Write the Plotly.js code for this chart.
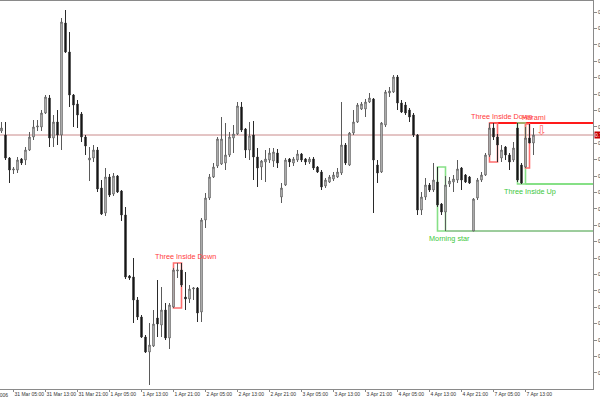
<!DOCTYPE html>
<html>
<head>
<meta charset="utf-8">
<script src="https://cdn.plot.ly/plotly-3.0.1.min.js"></script>
<style>html,body{margin:0;padding:0;background:#fff;}#chart{width:600px;height:400px;}</style>
</head>
<body>
<div id="chart"></div>
<script>
// Hourly bars (index 0 = first visible bar). Prices (axis labels are cut off).
const open = [
0.7257,0.7253,0.7230,0.7218,0.7218,0.7229,0.7228,0.7238,0.7251,0.7261,
0.7261,0.7275,0.7290,0.7250,0.7266,0.7253,0.7365,0.7336,0.7293,0.7284,
0.7274,0.7251,0.7228,0.7230,0.7238,0.7200,0.7175,0.7211,0.7194,0.7212,
0.7197,0.7173,0.7112,0.7111,0.7088,0.7071,0.7051,0.7036,0.7042,0.7070,
0.7063,0.7078,0.7050,0.7081,0.7117,0.7118,0.7091,0.7089,0.7099,0.7100,
0.7076,0.7168,0.7190,0.7211,0.7222,0.7224,0.7225,0.7233,0.7250,0.7254,
0.7281,0.7259,0.7238,0.7253,0.7231,0.7221,0.7226,0.7228,0.7227,0.7235,
0.7191,0.7203,0.7229,0.7225,0.7228,0.7234,0.7229,0.7226,0.7229,0.7221,
0.7216,0.7202,0.7206,0.7209,0.7211,0.7215,0.7243,0.7223,0.7255,0.7266,
0.7279,0.7279,0.7286,0.7289,0.7223,0.7216,0.7263,0.7295,0.7296,0.7311,
0.7285,0.7283,0.7278,0.7273,0.7253,0.7178,0.7191,0.7203,0.7198,0.7206,
0.7184,0.7176,0.7204,0.7206,0.7208,0.7220,0.7213,0.7211,0.7157,0.7190,
0.7208,0.7213,0.7233,0.7260,0.7251,0.7230,0.7241,0.7233,0.7228,0.7260,
0.7223,0.7221,0.7250,0.7245];
const high = [
0.7266,0.7266,0.7231,0.7221,0.7231,0.7230,0.7241,0.7256,0.7268,0.7268,
0.7278,0.7293,0.7293,0.7273,0.7278,0.7370,0.7378,0.7356,0.7294,0.7288,
0.7276,0.7253,0.7241,0.7243,0.7241,0.7208,0.7220,0.7214,0.7215,0.7213,
0.7198,0.7181,0.7113,0.7130,0.7091,0.7073,0.7053,0.7065,0.7078,0.7108,
0.7101,0.7085,0.7085,0.7120,0.7125,0.7125,0.7116,0.7103,0.7101,0.7101,
0.7170,0.7195,0.7214,0.7225,0.7251,0.7271,0.7265,0.7256,0.7263,0.7286,
0.7286,0.7260,0.7266,0.7267,0.7240,0.7228,0.7238,0.7240,0.7240,0.7239,
0.7205,0.7230,0.7230,0.7231,0.7238,0.7235,0.7230,0.7231,0.7231,0.7222,
0.7218,0.7210,0.7213,0.7216,0.7220,0.7286,0.7245,0.7256,0.7278,0.7285,
0.7286,0.7289,0.7295,0.7290,0.7228,0.7266,0.7298,0.7301,0.7313,0.7313,
0.7288,0.7286,0.7280,0.7275,0.7254,0.7196,0.7210,0.7205,0.7225,0.7221,
0.7185,0.7212,0.7211,0.7213,0.7228,0.7221,0.7214,0.7212,0.7190,0.7210,
0.7216,0.7235,0.7265,0.7265,0.7254,0.7243,0.7242,0.7235,0.7246,0.7265,
0.7225,0.7261,0.7264,0.7260];
const low = [
0.7255,0.7228,0.7205,0.7214,0.7215,0.7223,0.7223,0.7237,0.7248,0.7257,
0.7257,0.7274,0.7241,0.7241,0.7243,0.7238,0.7335,0.7281,0.7261,0.7260,
0.7246,0.7233,0.7207,0.7226,0.7196,0.7173,0.7172,0.7191,0.7192,0.7195,
0.7167,0.7109,0.7108,0.7065,0.7068,0.7050,0.7035,0.7003,0.7041,0.7051,
0.7051,0.7048,0.7039,0.7080,0.7110,0.7101,0.7078,0.7085,0.7088,0.7066,
0.7066,0.7160,0.7188,0.7210,0.7220,0.7223,0.7218,0.7231,0.7235,0.7253,
0.7256,0.7230,0.7228,0.7208,0.7201,0.7208,0.7206,0.7225,0.7221,0.7220,
0.7185,0.7202,0.7221,0.7222,0.7226,0.7226,0.7223,0.7224,0.7218,0.7215,
0.7198,0.7200,0.7205,0.7207,0.7210,0.7213,0.7223,0.7222,0.7253,0.7265,
0.7278,0.7271,0.7285,0.7175,0.7205,0.7215,0.7261,0.7291,0.7295,0.7278,
0.7275,0.7273,0.7266,0.7251,0.7173,0.7173,0.7188,0.7196,0.7196,0.7181,
0.7173,0.7157,0.7201,0.7196,0.7205,0.7198,0.7205,0.7204,0.7157,0.7188,
0.7206,0.7212,0.7231,0.7248,0.7226,0.7226,0.7228,0.7218,0.7226,0.7206,
0.7204,0.7220,0.7245,0.7233];
const close = [
0.7260,0.7230,0.7218,0.7219,0.7228,0.7225,0.7238,0.7251,0.7261,0.7262,
0.7275,0.7291,0.7250,0.7266,0.7253,0.7366,0.7336,0.7293,0.7283,0.7273,
0.7251,0.7242,0.7230,0.7238,0.7199,0.7174,0.7211,0.7193,0.7212,0.7196,
0.7173,0.7111,0.7110,0.7088,0.7071,0.7051,0.7036,0.7043,0.7064,0.7064,
0.7078,0.7050,0.7083,0.7118,0.7118,0.7103,0.7089,0.7099,0.7100,0.7075,
0.7168,0.7190,0.7211,0.7221,0.7249,0.7249,0.7233,0.7251,0.7254,0.7282,
0.7258,0.7238,0.7252,0.7231,0.7220,0.7227,0.7229,0.7235,0.7236,0.7225,
0.7200,0.7228,0.7226,0.7229,0.7234,0.7228,0.7226,0.7229,0.7220,0.7216,
0.7201,0.7208,0.7211,0.7213,0.7216,0.7243,0.7225,0.7255,0.7266,0.7283,
0.7284,0.7286,0.7290,0.7228,0.7215,0.7265,0.7296,0.7297,0.7311,0.7285,
0.7276,0.7275,0.7271,0.7253,0.7178,0.7191,0.7203,0.7198,0.7208,0.7183,
0.7176,0.7203,0.7207,0.7209,0.7219,0.7208,0.7206,0.7205,0.7189,0.7208,
0.7213,0.7233,0.7260,0.7251,0.7243,0.7238,0.7233,0.7226,0.7240,0.7208,
0.7205,0.7250,0.7245,0.7253];

// Time axis labels, one every 8 bars starting at bar 3
const timeLabels = ["31 Mar 05:00","31 Mar 13:00","31 Mar 21:00","1 Apr 05:00","1 Apr 13:00","1 Apr 21:00",
  "2 Apr 05:00","2 Apr 13:00","2 Apr 21:00","3 Apr 05:00","3 Apr 13:00","3 Apr 21:00",
  "4 Apr 05:00","4 Apr 13:00","4 Apr 21:00","7 Apr 05:00","7 Apr 13:00"];
const firstDateLabel = "31 Mar 2006";

// Candlestick patterns found (first bar, last bar)
const patNames = ["Three Inside Down","Morning star","Three Inside Down","Three Inside Up","Harami"];
const patStart = [43,109,122,129,131];
const patEnd   = [45,111,124,131,132];
const patBull  = [false,true,false,true,false];

const N = close.length;
const xs = Array.from({length:N},(_,i)=>i);
const XMIN = -0.375, XMAX = 147.875;
const lastBar = N-1;

const trace = {
  type:'candlestick', x:xs, open:open, high:high, low:low, close:close,
  line:{width:1}, whiskerwidth:0,
  increasing:{line:{color:'#5a5a5a',width:1}, fillcolor:'#ffffff'},
  decreasing:{line:{color:'#2a2a2a',width:1}, fillcolor:'#000000'},
  hoverinfo:'skip', showlegend:false
};

const shapes = [];
const annotations = [];
const maxOf=(a,s,e)=>Math.max(...a.slice(s,e+1));
const minOf=(a,s,e)=>Math.min(...a.slice(s,e+1));
const boxTop=[], boxBot=[];
patNames.forEach((n,k)=>{boxTop.push(maxOf(high,patStart[k],patEnd[k])); boxBot.push(minOf(low,patStart[k],patEnd[k]));});

// bid line
shapes.push({type:'line',layer:'below',xref:'x',yref:'y',x0:-1,x1:XMAX,y0:close[lastBar],y1:close[lastBar],line:{color:'#c98a8a',width:1}});
// level lines from patterns
shapes.push({type:'line',layer:'below',xref:'x',yref:'y',x0:patEnd[1],x1:XMAX,y0:boxBot[1],y1:boxBot[1],line:{color:'#3a9a3a',width:1}});
shapes.push({type:'line',layer:'below',xref:'x',yref:'y',x0:patStart[2],x1:XMAX,y0:boxTop[2],y1:boxTop[2],line:{color:'#ff1a1a',width:2}});
shapes.push({type:'line',layer:'below',xref:'x',yref:'y',x0:patEnd[3],x1:XMAX,y0:boxBot[3],y1:boxBot[3],line:{color:'#86e086',width:2}});

patNames.forEach((n,k)=>{
  const col = patBull[k] ? '#86e086' : '#ff6e6e';
  shapes.push({type:'rect',layer:'below',xref:'x',yref:'y',x0:patStart[k],x1:patEnd[k],y0:boxBot[k],y1:boxTop[k],
    line:{color:col,width:1.6},fillcolor:'rgba(0,0,0,0)'});
  annotations.push({xref:'x',yref:'y',x:patEnd[k]+1,y:patBull[k]?boxBot[k]:boxTop[k],
    yanchor:patBull[k]?'top':'bottom',xanchor:'center',showarrow:false,text:n,
    yshift:patBull[k]?-1:0,
    font:{family:'Liberation Sans, Arial, sans-serif',size:7.3,color:patBull[k]?'#3cc83c':'#ff3c3c'}});
});

// sell arrow
annotations.push({xref:'x',yref:'y',x:lastBar+1.9,y:close[lastBar]+0.0005,showarrow:false,text:'\u21E9',
  font:{family:'DejaVu Sans',size:13,color:'#ff6a6a'}});
// current price tag
annotations.push({xref:'paper',yref:'y',x:1,y:close[lastBar],xanchor:'left',yanchor:'middle',xshift:1,showarrow:false,
  text:close[lastBar].toFixed(4),bgcolor:'#c80000',borderpad:0,font:{family:'Liberation Sans, Arial',size:5,color:'#ffffff'}});
// first date label (cut at the left edge)
annotations.push({xref:'x',yref:'paper',x:2,y:0,xanchor:'right',yanchor:'top',yshift:-1,showarrow:false,
  text:firstDateLabel,font:{family:'Liberation Sans, Arial',size:5,color:'#333333'}});

const layout = {
  width:600, height:400,
  margin:{l:0,r:7,t:1,b:11,pad:0},
  paper_bgcolor:'#ffffff', plot_bgcolor:'#ffffff',
  showlegend:false, boxgap:0.5,
  xaxis:{range:[XMIN,XMAX], type:'linear', showgrid:false, zeroline:false, showline:true, mirror:true,
    linecolor:'#8a8a8a', linewidth:1, ticks:'outside', ticklen:2, tickcolor:'#8a8a8a',
    tickvals:timeLabels.map((t,k)=>3+8*k), ticktext:timeLabels, ticklabelposition:'outside right',
    tickangle:0, ticklabelstandoff:0,
    tickfont:{family:'Liberation Sans, Arial',size:5,color:'#333333'},
    rangeslider:{visible:false}, fixedrange:true, automargin:false},
  yaxis:{range:[0.6999,0.7387], side:'right', showgrid:false, zeroline:false, showline:true,
    linecolor:'#8a8a8a', linewidth:1, ticks:'outside', ticklen:3, tickcolor:'#8a8a8a',
    tick0:0.7376, dtick:0.00164, tickformat:'.4f',
    tickfont:{family:'Liberation Sans, Arial',size:5,color:'#333333'}, fixedrange:true, automargin:false},
  shapes:shapes, annotations:annotations
};

Plotly.newPlot('chart',[trace],layout,{staticPlot:true,displayModeBar:false});
</script>
</body>
</html>
